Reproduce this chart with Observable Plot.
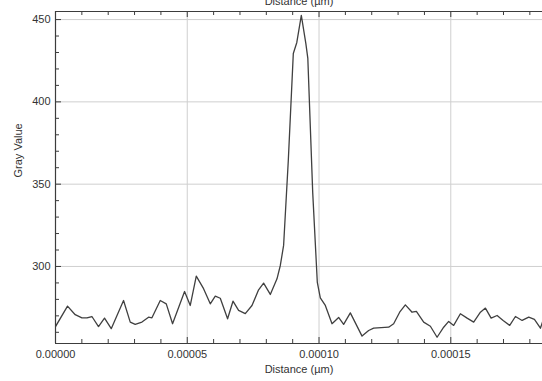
<!DOCTYPE html>
<html>
<head>
<meta charset="utf-8">
<script src="https://cdn.jsdelivr.net/npm/d3@7"></script>
<script src="https://cdn.jsdelivr.net/npm/@observablehq/plot@0.6"></script>
<style>
  html, body { margin: 0; padding: 0; background: #fff; overflow: hidden; }
  #chart svg { display: block; }
</style>
</head>
<body>
<div id="chart"></div>
<script>
// Distance values (µm)
const distance = [0, 4.56e-6, 7.48e-6, 10.02e-6, 11.92e-6, 13.82e-6, 16.32e-6, 18.60e-6, 21.15e-6, 25.82e-6,
  28.36e-6, 30.26e-6, 32.80e-6, 35.31e-6, 36.60e-6, 39.75e-6, 42.03e-6, 44.42e-6, 48.98e-6, 51.14e-6,
  53.42e-6, 56.19e-6, 58.73e-6, 60.63e-6, 62.53e-6, 65.30e-6, 67.35e-6, 69.48e-6, 72.02e-6, 74.56e-6,
  77.07e-6, 78.97e-6, 81.51e-6, 84.05e-6, 85.31e-6, 86.56e-6, 88.34e-6, 90.24e-6, 91.57e-6, 93.28e-6,
  94.99e-6, 95.75e-6, 97.6e-6, 99.35e-6, 100.49e-6, 102.39e-6, 104.93e-6, 107.44e-6, 109.34e-6, 111.88e-6,
  116.32e-6, 118.83e-6, 120.73e-6, 126.42e-6, 128.32e-6, 130.60e-6, 132.76e-6, 135.31e-6, 136.94e-6, 139.71e-6,
  142.26e-6, 144.80e-6, 147.30e-6, 149.20e-6, 151.10e-6, 153.64e-6, 156.19e-6, 158.69e-6, 161.24e-6, 163.14e-6,
  165.30e-6, 167.58e-6, 169.86e-6, 172.36e-6, 174.53e-6, 177.07e-6, 179.58e-6, 181.74e-6, 184.02e-6, 184.78e-6];
// Gray values
const grayValue = [263.5, 275.9, 270.7, 268.8, 268.8, 269.6, 263.5, 268.6, 262.2, 279.3,
  266.2, 264.8, 266.2, 269.2, 268.8, 279.3, 277.3, 265.2, 284.8, 276.3,
  294.1, 286.5, 277.3, 282.0, 280.7, 268.2, 278.9, 273.3, 271.3, 276.3,
  285.8, 289.9, 283.0, 292.5, 300.6, 312.8, 364.4, 429.4, 436.1, 452.5,
  435.5, 426.4, 345.0, 290.3, 280.9, 276.3, 265.2, 269.0, 264.8, 271.8,
  257.7, 261.1, 262.5, 263.1, 265.2, 272.2, 276.7, 272.2, 272.7, 266.2,
  263.7, 257.0, 263.1, 266.6, 264.2, 271.3, 268.6, 266.2, 272.2, 274.7,
  268.6, 270.2, 267.2, 264.2, 269.6, 267.2, 269.2, 267.8, 262.5, 266.2];

const xMajorTicks = [0, 0.00005, 0.0001, 0.00015];
const xMinorTicks = [0.00001, 0.00002, 0.00003, 0.00004, 0.00006, 0.00007, 0.00008, 0.00009,
  0.00011, 0.00012, 0.00013, 0.00014, 0.00016, 0.00017, 0.00018];
const yMajorTicks = [300, 350, 400, 450];
const yMinorTicks = [260, 270, 280, 290, 310, 320, 330, 340, 360, 370, 380, 390, 410, 420, 430, 440];
const xDomain = [0, 0.0001848];
const yDomain = [253.2, 454.9];

const xLabel = "Distance (µm)";
const yLabel = "Gray Value";
const topTitle = "Distance (µm)";

const rows = distance.map((d, i) => ({distance: d, gray: grayValue[i]}));

const W = 542, H = 381;
const mL = 55, mR = 0, mT = 11, mB = 38;
const frameW = W - mL - mR, frameH = H - mT - mB;
const gridColor = "#cfcfcf";
const axisColor = "#3c3c3c";
const font = "'Liberation Sans', Arial, sans-serif";

const chart = Plot.plot({
  width: W,
  height: H,
  marginLeft: mL,
  marginRight: mR,
  marginTop: mT,
  marginBottom: mB,
  style: {fontFamily: font, fontSize: "11px", color: "#333", background: "#fff"},
  x: {domain: xDomain},
  y: {domain: yDomain},
  marks: [
    Plot.gridX(xMajorTicks, {stroke: gridColor, strokeOpacity: 1, strokeWidth: 1}),
    Plot.gridY(yMajorTicks, {stroke: gridColor, strokeOpacity: 1, strokeWidth: 1}),
    // inward ticks, bottom
    Plot.tickX(xMinorTicks, {x: d => d, insetTop: frameH - 4, stroke: axisColor}),
    Plot.tickX(xMajorTicks, {x: d => d, insetTop: frameH - 6, stroke: axisColor}),
    // inward ticks, top
    Plot.tickX(xMinorTicks, {x: d => d, insetBottom: frameH - 4, stroke: axisColor}),
    Plot.tickX(xMajorTicks, {x: d => d, insetBottom: frameH - 6, stroke: axisColor}),
    // inward ticks, left
    Plot.tickY(yMinorTicks, {y: d => d, insetRight: frameW - 4, stroke: axisColor}),
    Plot.tickY(yMajorTicks, {y: d => d, insetRight: frameW - 6, stroke: axisColor}),
    Plot.axisX({ticks: xMajorTicks, tickSize: 0, tickPadding: 7, tickFormat: d => d.toFixed(5), label: null, fill: "#333"}),
    Plot.axisY({ticks: yMajorTicks, tickSize: 0, tickPadding: 5, label: null, fill: "#333"}),
    Plot.line(rows, {x: "distance", y: "gray", stroke: "#404040", strokeWidth: 1.3, clip: true}),
    // frame (left, top, bottom)
    Plot.ruleX([xDomain[0]], {stroke: axisColor, strokeWidth: 1.2}),
    Plot.ruleY([yDomain[0]], {stroke: axisColor, strokeWidth: 1.2}),
    Plot.ruleY([yDomain[1]], {stroke: axisColor, strokeWidth: 1.2}),
    Plot.text([yLabel], {frameAnchor: "left", dx: -37, rotate: -90, fill: "#333", fontSize: 11}),
    Plot.text([xLabel], {frameAnchor: "bottom", dy: 29, fill: "#333", fontSize: 11}),
    Plot.text([topTitle], {frameAnchor: "top", dy: -14, fill: "#333", fontSize: 11})
  ]
});
document.getElementById("chart").append(chart);
</script>
</body>
</html>
